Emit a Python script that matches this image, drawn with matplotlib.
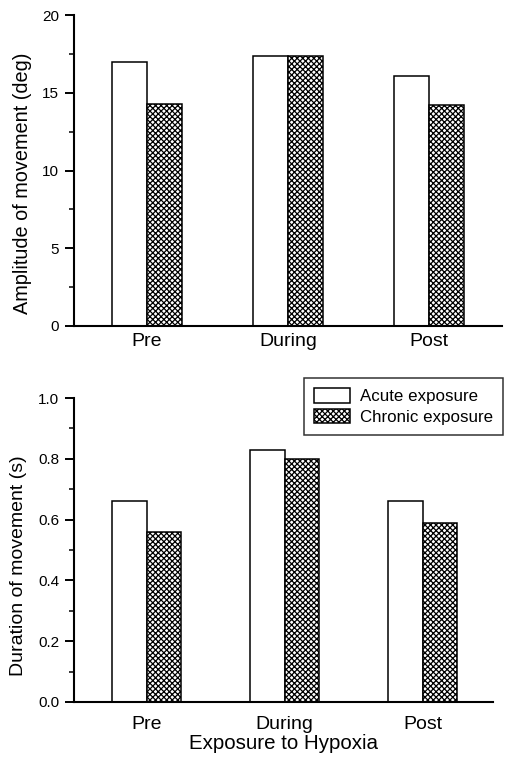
import numpy as np
import matplotlib
matplotlib.use("Agg")
from matplotlib import pyplot as plt
from matplotlib.ticker import FormatStrFormatter

plt.rcParams['font.family'] = ['Liberation Sans', 'DejaVu Sans']
plt.rcParams['hatch.linewidth'] = 0.9

phases = ["Pre", "During", "Post"]
amp_acute = [17.0, 17.4, 16.1]
amp_chronic = [14.3, 17.4, 14.2]
dur_acute = [0.66, 0.83, 0.66]
dur_chronic = [0.56, 0.80, 0.59]

fig = plt.figure(figsize=(5.06, 7.59), dpi=100)
ax1 = fig.add_axes([0.146, 0.5705, 0.846, 0.4095])
ax2 = fig.add_axes([0.146, 0.0751, 0.828, 0.4005])

x = np.arange(len(phases))
w = 0.25


def style(ax, top, major, minor, xpad):
    for s in ["top", "right"]:
        ax.spines[s].set_visible(False)
    ax.spines["left"].set_linewidth(1.5)
    ax.spines["bottom"].set_linewidth(1.5)
    ax.set_ylim(0, top)
    ax.set_yticks(np.arange(0, top + major / 2, major))
    ax.set_yticks(np.arange(0, top + minor / 2, minor), minor=True)
    ax.tick_params(axis="y", which="major", length=6.5, width=1.4, labelsize=11, pad=4)
    ax.tick_params(axis="y", which="minor", length=3.5, width=1.1)
    ax.tick_params(axis="x", length=0, labelsize=14, pad=xpad)
    ax.set_xticks(x)
    ax.set_xticklabels(phases)


ax1.bar(x - w / 2, amp_acute, w, color="white", edgecolor="black", linewidth=1.1,
        label="Acute exposure")
ax1.bar(x + w / 2, amp_chronic, w, color="white", edgecolor="black", linewidth=1.1,
        hatch="xxxxxx", label="Chronic exposure")
ax1.set_xlim(-0.52, 2.52)
style(ax1, 20, 5, 2.5, 5)
ax1.set_ylabel("Amplitude of movement (deg)", fontsize=14.3)
ax1.yaxis.set_label_coords(-0.097, 0.458)

ax2.bar(x - w / 2, dur_acute, w, color="white", edgecolor="black", linewidth=1.1,
        label="Acute exposure")
ax2.bar(x + w / 2, dur_chronic, w, color="white", edgecolor="black", linewidth=1.1,
        hatch="xxxxxx", label="Chronic exposure")
ax2.set_xlim(-0.53, 2.51)
style(ax2, 1.0, 0.2, 0.1, 10)
ax2.yaxis.set_major_formatter(FormatStrFormatter("%.1f"))
ax2.set_ylabel("Duration of movement (s)", fontsize=14)
ax2.yaxis.set_label_coords(-0.113, 0.447)
ax2.set_xlabel("Exposure to Hypoxia", fontsize=14.8, labelpad=1)

leg = ax2.legend(loc="upper left", bbox_to_anchor=(0.601, 0.502), bbox_transform=fig.transFigure,
                 fontsize=12.2, frameon=True, fancybox=False, edgecolor="black",
                 handlelength=2.1, handleheight=0.95, borderpad=0.6, labelspacing=0.25,
                 handletextpad=0.6, borderaxespad=0)
leg.get_frame().set_linewidth(1.1)

fig.savefig("out.png", dpi=100)
